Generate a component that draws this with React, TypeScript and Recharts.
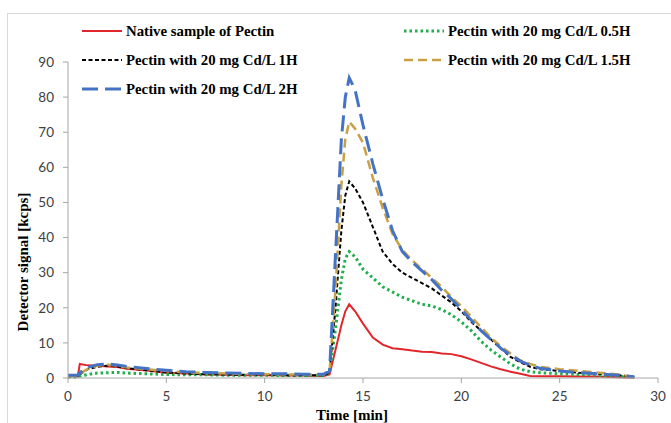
import React from "react";
import { LineChart, Line, XAxis, YAxis, Label } from "recharts";

// sampling times in minutes
const times = [
  0, 0.5, 0.6, 1, 1.5, 2, 2.5, 3, 4, 5, 6, 7, 8, 9, 10, 11, 12, 13, 13.3, 13.6,
  13.9, 14.1, 14.3, 14.6, 15, 15.5, 16, 16.5, 17, 17.5, 18, 18.5, 19, 19.5, 20,
  20.5, 21, 21.5, 22, 22.5, 23, 23.5, 24, 25, 26, 27, 28, 28.8,
];

const nativeSample = [
  0.5, 0.5, 4, 3.6, 3.5, 3.3, 3.1, 2.6, 2.1, 1.5, 1.3, 1.0, 0.9, 0.8, 0.8, 0.7,
  0.7, 0.6, 1, 8, 15, 19, 21, 19, 15.5, 11.5, 9.5, 8.5, 8.2, 7.8, 7.5, 7.4, 7,
  6.8, 6.2, 5.3, 4.3, 3.3, 2.5, 1.8, 1.2, 0.6, 0.5, 0.5, 0.4, 0.4, 0.2, 0.1,
];

const cd05h = [
  0.3, 0.3, 0.5, 1, 1.4, 1.5, 1.6, 1.4, 1.2, 1.0, 0.9, 0.9, 0.8, 0.8, 0.8, 0.7,
  0.7, 0.7, 1.5, 14, 28, 34, 36, 34.5, 31, 28.5, 26, 24.5, 23, 22, 21, 20.5,
  19.5, 18, 16, 13.5, 10.5, 8, 6, 4, 2.5, 1.8, 1.5, 1.2, 1.0, 0.8, 0.5, 0.3,
];

const cd1h = [
  0.5, 0.5, 1, 2.5, 3.2, 3.5, 3.3, 2.8, 2.2, 1.6, 1.3, 1.1, 1.0, 0.9, 0.9, 0.8,
  0.8, 0.8, 1.5, 20, 42, 52, 56, 54, 50, 43, 36, 32.5, 30, 28.5, 27, 25.5, 23.5,
  21.5, 19, 16, 13.5, 11, 8.5, 6, 4.5, 3.2, 2.5, 2.0, 1.5, 1.2, 0.8, 0.3,
];

const cd15h = [
  0.6, 0.6, 1.2, 2.6, 3.5, 3.8, 3.5, 3.0, 2.5, 2.0, 1.6, 1.4, 1.3, 1.1, 1.1,
  1.0, 1.0, 1.0, 1.8, 25, 55, 68, 73, 71, 67, 57, 48.5, 41, 36.5, 33.5, 31,
  28.5, 26, 23, 20.5, 17.5, 14.5, 11.5, 9, 7, 5, 4, 3.2, 2.5, 2.0, 1.5, 1.0, 0.3,
];

const cd2h = [
  0.8, 0.8, 1.5, 3, 3.8, 4, 3.7, 3.3, 2.7, 2.2, 1.8, 1.6, 1.4, 1.3, 1.2, 1.2,
  1.1, 1.1, 2, 35, 68, 80, 85.5, 82, 72, 61, 51, 42, 36, 33, 30.5, 28, 25, 22.5,
  19.5, 16.5, 13.5, 11, 8.5, 6.5, 4.8, 3.6, 2.8, 2.0, 1.5, 1.2, 0.8, 0.3,
];

const xTicks = [0, 5, 10, 15, 20, 25, 30];
const yTicks = [0, 10, 20, 30, 40, 50, 60, 70, 80, 90];

const seriesNames = [
  "Native sample of Pectin",
  "Pectin with 20 mg Cd/L 0.5H",
  "Pectin with 20 mg Cd/L 1H",
  "Pectin with 20 mg Cd/L 1.5H",
  "Pectin with 20 mg Cd/L 2H",
];

const data = times.map((t, i) => ({
  t,
  native: nativeSample[i],
  h05: cd05h[i],
  h1: cd1h[i],
  h15: cd15h[i],
  h2: cd2h[i],
}));

const styles = [
  { key: "native", color: "#e3262b", width: 2, dash: undefined },
  { key: "h05", color: "#1fae4b", width: 3, dash: "2.5 3" },
  { key: "h1", color: "#000000", width: 2, dash: "4 2.5" },
  { key: "h15", color: "#c9a144", width: 2.5, dash: "9 5" },
  { key: "h2", color: "#4472c4", width: 3, dash: "16 7" },
];

const serif = "'Liberation Serif', 'Times New Roman', serif";
const sans = "Lato, 'Liberation Sans', sans-serif";

// legend slots: [seriesIndex, x of line start, y]
const legendPos = [
  [0, 82, 31],
  [1, 404, 31],
  [2, 82, 60],
  [3, 404, 60],
  [4, 82, 89],
];

function LegendItem({ idx, x, y }) {
  const s = styles[idx];
  return (
    <div style={{ position: "absolute", left: x, top: y - 9, height: 18, display: "flex", alignItems: "center" }}>
      <svg width={42} height={18}>
        <line x1={0} y1={9} x2={40} y2={9} stroke={s.color} strokeWidth={s.width} strokeDasharray={s.dash} />
      </svg>
      <span style={{ fontFamily: serif, fontWeight: "bold", fontSize: 14.8, color: "#000", whiteSpace: "nowrap", marginLeft: 2 }}>
        {seriesNames[idx]}
      </span>
    </div>
  );
}

export default function App() {
  return (
    <div style={{ position: "absolute", left: 0, top: 0, width: 671, height: 423, background: "#fff", overflow: "hidden" }}>
      <div style={{ position: "absolute", left: 7, top: 13, width: 680, height: 430, borderLeft: "1px solid #d9d9d9", borderTop: "1px solid #d9d9d9" }} />
      <LineChart width={671} height={423} data={data} margin={{ top: 62, right: 13, left: 0, bottom: 0 }}>
        <XAxis
          dataKey="t"
          type="number"
          domain={[0, 30]}
          ticks={xTicks}
          height={45}
          stroke="#a6a6a6"
          tickSize={5}
          tick={{ fontFamily: sans, fontSize: 13.5, fill: "#404040" }}
          tickMargin={8}
        >
          <Label
            content={() => (
              <text x={352} y={417} textAnchor="middle" dominantBaseline="middle" fontFamily={serif} fontWeight="bold" fontSize={15} fill="#000">
                Time [min]
              </text>
            )}
          />
        </XAxis>
        <YAxis
          type="number"
          domain={[0, 90]}
          ticks={yTicks}
          width={68}
          stroke="#a6a6a6"
          tickSize={5}
          tickMargin={9}
          tick={{ fontFamily: sans, fontSize: 13.5, fill: "#404040" }}
        >
          <Label
            content={() => (
              <text x={25} y={262} transform="rotate(-90 25 262)" textAnchor="middle" dominantBaseline="middle" fontFamily={serif} fontWeight="bold" fontSize={15} fill="#000">
                Detector signal [kcps]
              </text>
            )}
          />
        </YAxis>
        {styles.map((s, i) => (
          <Line
            key={s.key}
            dataKey={s.key}
            name={seriesNames[i]}
            type="linear"
            stroke={s.color}
            strokeWidth={s.width}
            strokeDasharray={s.dash}
            dot={false}
            isAnimationActive={false}
          />
        ))}
      </LineChart>
      {legendPos.map(([idx, x, y]) => (
        <LegendItem key={idx} idx={idx} x={x} y={y} />
      ))}
    </div>
  );
}
